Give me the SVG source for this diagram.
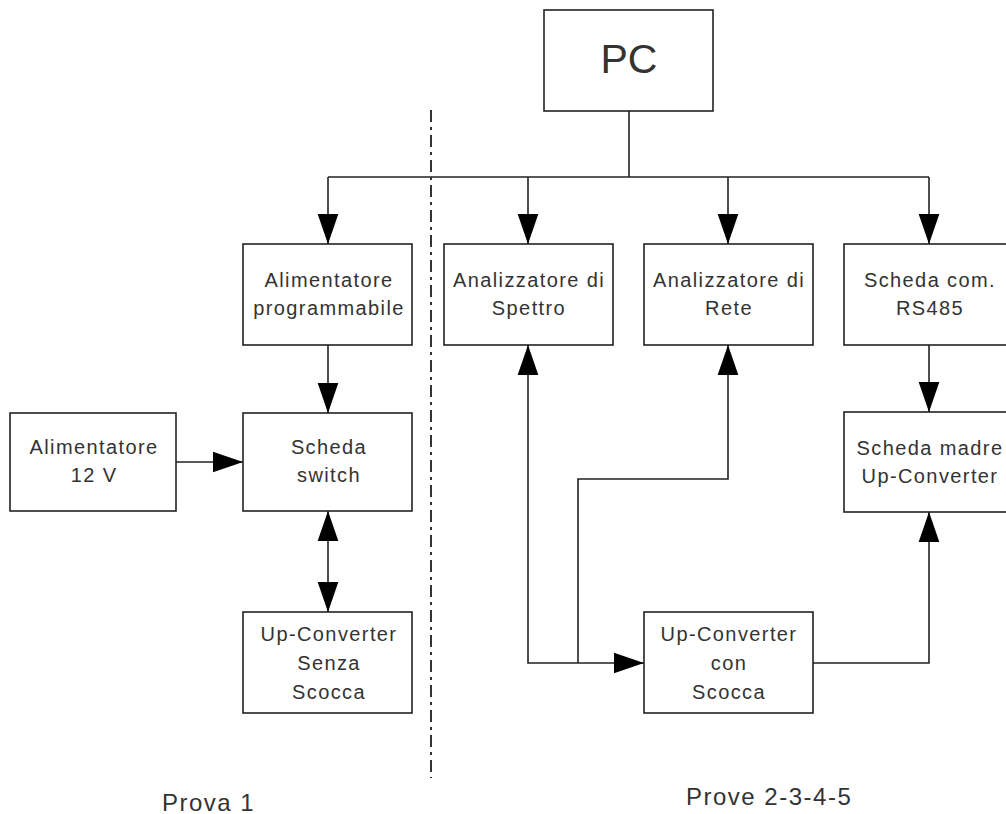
<svg xmlns="http://www.w3.org/2000/svg" width="1006" height="814" viewBox="0 0 1006 814">
<style>
.box{fill:#fff;stroke:#222;stroke-width:1.6}
.t{font-family:"Liberation Sans",Arial,sans-serif;font-size:20px;letter-spacing:1.4px;fill:#333;text-anchor:middle}
.lbl{font-family:"Liberation Sans",Arial,sans-serif;font-size:24px;letter-spacing:1.5px;fill:#333}
.c{fill:none;stroke:#222;stroke-width:1.6}
.a{marker-end:url(#ah)}
</style>
<defs>
<marker id="ah" markerUnits="userSpaceOnUse" markerWidth="30" markerHeight="22" viewBox="0 0 29 20" refX="29" refY="10" orient="auto-start-reverse">
<path d="M0,0 L29,10 L0,20 Z" fill="#000"/>
</marker>
</defs>
<g id="connectors">
<path class="c" d="M629,111 V177"/>
<path class="c" d="M328,177 H929"/>
<path class="c a" d="M328,177 V244"/>
<path class="c a" d="M528,177 V244"/>
<path class="c a" d="M728,177 V244"/>
<path class="c a" d="M929,177 V244"/>
<path class="c a" d="M328,345 V413"/>
<path class="c a" d="M929,345 V412"/>
<path class="c a" d="M176,462 H243"/>
<path class="c a" d="M328,511 V612" marker-start="url(#ah)"/>
<path class="c a" d="M528,345 V663 H644" marker-start="url(#ah)"/>
<path class="c a" d="M578,663 V479 H728 V345"/>
<path class="c a" d="M813,663 H929 V512"/>
<path d="M431,110 V778" fill="none" stroke="#333" stroke-width="2" stroke-dasharray="12,5,3,5"/>
</g>
<g id="pc">
<rect class="box" x="544" y="10" width="169" height="101"/>
<text x="629" y="73" style="font-family:'Liberation Sans',Arial,sans-serif;font-size:41px;fill:#333;text-anchor:middle">PC</text>
</g>
<g id="alim-prog">
<rect class="box" x="243" y="244" width="169" height="101"/>
<text class="t" x="329" y="287">Alimentatore</text>
<text class="t" x="329" y="315">programmabile</text>
</g>
<g id="spettro">
<rect class="box" x="444" y="244" width="169" height="101"/>
<text class="t" x="529" y="287">Analizzatore di</text>
<text class="t" x="529" y="315">Spettro</text>
</g>
<g id="rete">
<rect class="box" x="644" y="244" width="169" height="101"/>
<text class="t" x="729" y="287">Analizzatore di</text>
<text class="t" x="729" y="315">Rete</text>
</g>
<g id="rs485">
<rect class="box" x="844" y="244" width="169" height="101"/>
<text class="t" x="930" y="287">Scheda com.</text>
<text class="t" x="930" y="315">RS485</text>
</g>
<g id="alim12">
<rect class="box" x="10" y="413" width="166" height="98"/>
<text class="t" x="94" y="454">Alimentatore</text>
<text class="t" x="94" y="482">12 V</text>
</g>
<g id="switch">
<rect class="box" x="243" y="413" width="169" height="98"/>
<text class="t" x="329" y="454">Scheda</text>
<text class="t" x="329" y="482">switch</text>
</g>
<g id="madre">
<rect class="box" x="844" y="412" width="169" height="100"/>
<text class="t" x="930" y="455">Scheda madre</text>
<text class="t" x="930" y="483">Up-Converter</text>
</g>
<g id="senza">
<rect class="box" x="243" y="612" width="169" height="101"/>
<text class="t" x="329" y="641">Up-Converter</text>
<text class="t" x="329" y="670">Senza</text>
<text class="t" x="329" y="699">Scocca</text>
</g>
<g id="con">
<rect class="box" x="644" y="612" width="169" height="101"/>
<text class="t" x="729" y="641">Up-Converter</text>
<text class="t" x="729" y="670">con</text>
<text class="t" x="729" y="699">Scocca</text>
</g>
<g id="labels">
<text class="lbl" x="162" y="811">Prova 1</text>
<text class="lbl" x="686" y="805">Prove 2-3-4-5</text>
</g>
</svg>
